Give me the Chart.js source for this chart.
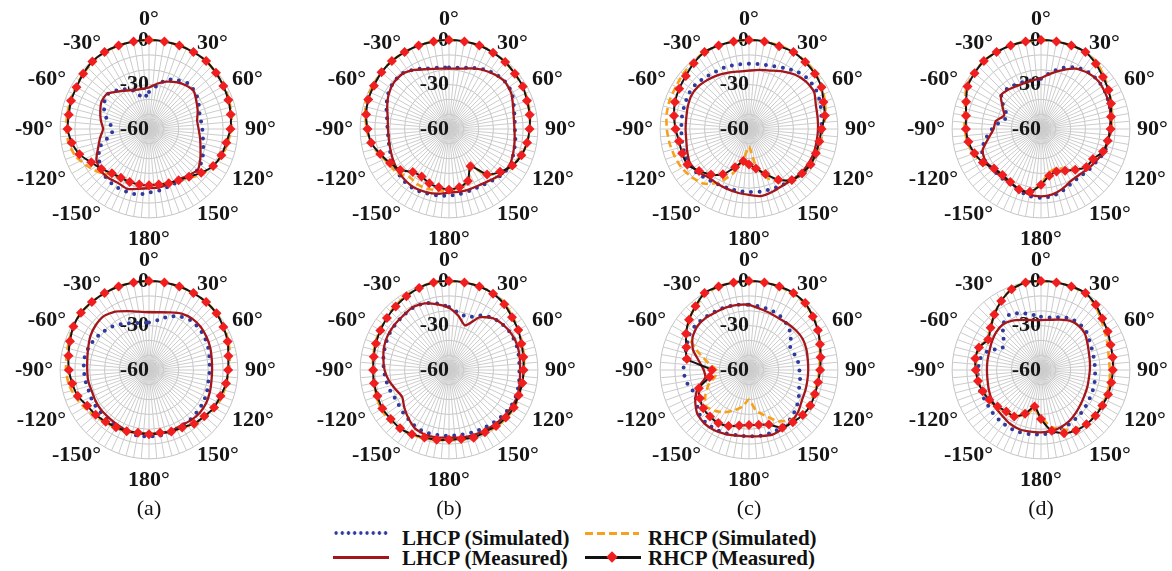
<!DOCTYPE html>
<html>
<head>
<meta charset="utf-8">
<script src="https://cdn.jsdelivr.net/npm/chart.js@4.4.0/dist/chart.umd.min.js"></script>
<style>
  html, body { margin: 0; padding: 0; background: #fff; }
  #stage { position: relative; width: 1172px; height: 571px; overflow: hidden; font-family: 'Liberation Serif', 'Times New Roman', serif; color: #111; }
  .plot { position: absolute; }
  .plot canvas { display: block; }
  .cap { position: absolute; font-size: 22px; line-height: 1; transform: translate(-50%, -50%); white-space: nowrap; }
  .lg-text { position: absolute; font-size: 21px; font-weight: bold; line-height: 1; transform: translateY(-50%); white-space: nowrap; }
  .sw { position: absolute; }
  .sw.dot { background-image: radial-gradient(circle, #2f3a9e 1.5px, transparent 2px); background-size: 6.2px 6px; height: 6px; }
  .sw.dash { height: 3px; background: repeating-linear-gradient(90deg, #f7a11a 0 8px, transparent 8px 12px); }
  .sw.red { height: 3px; background: #a4161a; }
  .sw.black { height: 3px; background: #111; }
  .diamond { position: absolute; width: 8px; height: 8px; background: #f01e1e; transform: rotate(45deg); }
</style>
</head>
<body>
<div id="stage"></div>
<script>
// ---- tick labels ---------------------------------------------------------
const angleTickLabels = ['0°', '30°', '60°', '90°', '120°', '150°', '180°', '-150°', '-120°', '-90°', '-60°', '-30°'];
const radialTickValues = [-60, -30, 0];
const panelCaptions = ['(a)', '(b)', '(c)', '(d)'];
const seriesNames = ['LHCP (Simulated)', 'RHCP (Simulated)', 'LHCP (Measured)', 'RHCP (Measured)'];

// ---- patterns in dB, theta = 0°, 10°, ..., 350° (clockwise, 190° = -170°) ----
// upper row
const lhcpSimA1  = [-35, -30.5, -24.5, -22, -19.5, -20, -21.5, -24, -24.5, -24, -23, -21, -18.5, -17, -18.5, -19.5, -19, -18, -17, -15, -15, -15, -16, -17.5, -21, -24.5, -33, -36, -32, -28, -25, -23.5, -26, -29, -33, -39];
const rhcpSimA1  = [0, 0, 0, 0, 0, -1, -1.5, -2.5, -3.5, -4.5, -6, -7.5, -10, -13, -17, -20, -21, -22, -22, -22, -22.5, -22, -20, -15, -11, -7, -5, -4, -4, -3.5, -3, -2, -1, 0, 0, 0];
const lhcpMeasA1 = [-32, -29, -26, -23.5, -21.5, -20.5, -23, -25, -27, -26.5, -25, -23, -20, -17, -19, -20.5, -20.5, -20, -20, -19, -17, -18, -17, -17, -19, -23.5, -26.5, -29, -27, -25, -23, -23, -27, -30, -32, -32.5];
const rhcpMeasA1 = [0, 0, 0, 0, 0, -1, -2, -3, -4, -5, -7, -8, -10, -14, -18, -20, -21, -22, -22, -22, -22, -22, -21, -18, -15, -10, -7, -5, -5, -4, -3.5, -2, -0.5, 0, 0, 0];

const lhcpSimB1  = [-18.5, -18, -16, -13.5, -11.5, -10.5, -11, -13.5, -15, -15.5, -14.5, -13.5, -12, -12.5, -14.5, -16, -16, -15.5, -15, -14.5, -14, -13, -13.5, -14.5, -16, -17.5, -18.5, -18.5, -17.5, -15, -12.5, -11, -11, -13.5, -16.5, -18];
const rhcpSimB1  = [0, 0, 0, 0, -1, -2, -2.5, -3.5, -4.5, -5.5, -6.5, -8, -10.5, -14.5, -19.5, -30, -22, -19, -18, -18, -17, -17, -18, -14, -13, -10, -6, -4.5, -2.5, -0.5, -1, 0, 0, 0, 0, 0];
const lhcpMeasB1 = [-19.2, -18.6, -16.5, -14, -12, -10.6, -11.5, -14, -15.6, -15.8, -15, -13.8, -12.4, -13, -15.4, -16.8, -17, -17, -17, -15.6, -14.7, -14, -14.4, -15.4, -16.7, -18, -18.8, -18.8, -18, -15.6, -13, -11.3, -11.3, -14, -17, -18.6];
const rhcpMeasB1 = [0, 0, 0, -0.5, -1, -2, -2.5, -4, -4.7, -5.6, -6.5, -8, -10.6, -15, -20, -31, -22.6, -20, -19, -20, -21, -23, -22, -17, -14, -10.6, -6.6, -5, -3.2, -2, -1.5, -0.5, 0, 0, 0, 0];

const lhcpSimC1  = [-16, -15.6, -14.7, -12.5, -9.5, -7.7, -7.7, -8.8, -10.4, -11, -11.5, -11.8, -11.5, -13, -15.3, -16, -16.7, -17, -17.4, -17.6, -17.6, -17.2, -15.8, -14, -13, -13.6, -14, -14.3, -14, -13.6, -12.9, -13, -14.4, -15.3, -15.3, -15.8];
const rhcpSimC1  = [0, 0, 0, 0, -0.5, -1.5, -3, -5.5, -7.5, -10, -11, -11.5, -12, -13, -15, -19, -25, -36, -48, -40, -28, -18, -12, -9.5, -7.5, -6.5, -5.5, -4.5, -3.5, -3, -3, -2, -1, 0, 0, 0];
const lhcpMeasC1 = [-20.6, -19.5, -18, -15, -12, -10, -9.3, -12, -13, -13.4, -13.6, -13.4, -13.6, -14, -15, -15.6, -14.7, -14, -15.6, -16.3, -17, -17.4, -17.4, -15, -14, -15.6, -17, -17.2, -17, -16, -15, -15.3, -16.7, -18, -19.5, -20.6];
const rhcpMeasC1 = [0, 0, -0.5, 0, -1, -2, -3.5, -6.5, -8, -11, -11.8, -12, -12, -13.3, -15, -20.4, -27.6, -33, -36, -38, -32.5, -24.7, -20, -16, -12, -12, -12, -10.4, -8.6, -6.8, -5.6, -4.3, -2, 0, 0, 0];

const lhcpSimD1  = [-26, -21, -16, -12, -10, -9.5, -10, -11, -12, -13, -13.5, -14.5, -16.5, -17.5, -18.5, -18, -16, -14, -13.5, -14, -16, -17.5, -17.5, -17.5, -16.5, -17.5, -22, -27, -32, -36, -31, -25, -24.5, -25.5, -26, -26.5];
const rhcpSimD1  = [0, 0, 0, 0, -1.5, -4.5, -7, -9.5, -11.5, -12.5, -14, -15.5, -18.5, -20, -25, -29, -31.5, -30, -23, -17, -16, -18, -19, -18, -14, -11.5, -9.5, -8.5, -7.5, -5.5, -2, -1, 0, 0, 0, 0];
const lhcpMeasD1 = [-25.6, -22, -17.7, -13, -10.6, -9.5, -10.2, -11, -12.4, -13.4, -14, -15, -17, -18.3, -19.7, -19.5, -17.2, -15.2, -14.5, -15, -16.8, -18, -18, -18, -16.7, -18, -24, -28, -29, -33.5, -30, -24.7, -25.4, -26.7, -27, -26.7];
const rhcpMeasD1 = [0, 0, 0, 0, -2.5, -5.4, -7.4, -9.7, -12, -13, -14.3, -15.4, -19.5, -20, -24, -27.4, -29.4, -28, -22.4, -17, -16.5, -18.6, -19.5, -18.6, -14.7, -12.2, -10.2, -9.3, -8.6, -6.2, -2.7, -1.4, 0, 0, 0, 0];

// lower row
const lhcpSimA2  = [-28, -25.8, -21.5, -18.3, -16.3, -16, -16.5, -17.4, -18.5, -19, -19.2, -18.3, -17.4, -17, -16.5, -16.3, -15.6, -15.2, -15.2, -15, -15.6, -15.8, -16.3, -16.7, -16.3, -17, -16.5, -16, -15.6, -16.5, -17.9, -19.7, -21.7, -24, -26.2, -27.8];
const rhcpSimA2  = [0, 0, 0, 0, 0, -0.5, -1.5, -3, -4.5, -6, -7, -7.5, -8.5, -10.5, -12.5, -15, -16, -17, -17, -17, -16, -15, -14, -12, -9.5, -7, -5, -4, -3.5, -2.5, -1, 0, 0, 0, 0, 0];
const lhcpMeasA2 = [-21, -20.4, -18.6, -16, -14.7, -14.5, -15.2, -16, -17, -17.4, -17.2, -16.3, -15.4, -15.2, -15.8, -16.7, -16.3, -16.5, -16.7, -16.7, -16.5, -17.4, -17.9, -17.9, -18.3, -18.8, -18.3, -18.3, -17.7, -16.3, -14.3, -13, -12.5, -14.5, -17.7, -20];
const rhcpMeasA2 = [0, 0, 0, 0, 0, -0.5, -2, -3.5, -5.6, -6.6, -7.2, -8.6, -9.3, -11.3, -12.7, -15.2, -15.8, -17, -16.7, -17, -16, -15.4, -14.5, -13, -11.8, -8.8, -7.4, -5.9, -4.8, -3.2, -1.1, 0, 0, 0, 0, 0];

const lhcpSimB2  = [-17.5, -21, -22, -17.5, -14, -12.5, -11.5, -11.5, -12, -12.5, -12, -11.5, -11.5, -12.5, -13.5, -14.5, -15, -15.5, -15.5, -15.5, -15, -15.5, -17, -18, -19, -18, -17, -16, -15, -14, -13, -12.5, -12, -11.5, -12, -14.5];
const rhcpSimB2  = [0, 0, 0, 0, -1.5, -4, -5.5, -7.5, -8.5, -9.5, -9.5, -9.5, -9, -9.5, -10, -11, -11.5, -12, -12.5, -12, -11, -9.5, -8, -7.5, -7, -8, -8.5, -8.5, -8, -7, -6, -5, -3.5, -2, -0.5, 0];
const lhcpMeasB2 = [-18, -23, -28, -19, -14.3, -12.4, -11.3, -11, -11.5, -12, -11.5, -10.6, -10.9, -11.5, -12, -12.7, -13.1, -13.8, -14.3, -13.8, -13.4, -14.3, -17.4, -20.6, -23.5, -21.7, -18.8, -16.5, -15, -13.4, -12.5, -12.2, -12, -11, -12.2, -15];
const rhcpMeasB2 = [0, 0, 0, -0.5, -2, -4.5, -6, -8, -9, -9.7, -9.7, -10, -9.5, -10, -10.6, -11.5, -11.3, -12.7, -12.9, -12.2, -11.5, -10, -8.6, -8.6, -8, -8.6, -8.6, -8.8, -8.4, -7.5, -6.5, -5.3, -4, -2.5, -1, 0];

const lhcpSimC2  = [-16, -16.5, -17, -18, -20, -23, -28, -27.6, -26.5, -26, -25, -24, -21.3, -18.8, -16.7, -15.5, -15, -15, -15.2, -15.2, -14.5, -14, -14, -15.5, -19, -19.5, -16.7, -15.8, -15.8, -15, -13.3, -12.9, -13.6, -14.3, -14.7, -15.4];
const rhcpSimC2  = [0, 0, 0, -0.5, -1.5, -3.5, -6, -9, -11.5, -12.5, -13, -13.5, -13.5, -14, -16, -20, -27, -32, -40, -35, -31, -27, -24, -22, -26, -31, -37, -38, -32, -23, -12, -7, -4, -1, 0, 0];
const lhcpMeasC2 = [-16, -18, -19, -19.7, -19.2, -18.5, -18.1, -18.8, -19.7, -20, -20, -19.5, -18.8, -16.5, -15, -14.3, -13.6, -14.7, -15.2, -15, -14, -13.1, -13, -14.3, -18.1, -22.9, -30, -29.4, -25.8, -19.7, -16, -14.3, -14.3, -15, -15, -15.4];
const rhcpMeasC2 = [0, 0, 0, 0, -1, -3.8, -6.3, -9, -10.9, -12, -12.7, -12.7, -12.2, -12.7, -14, -15, -20.8, -22.4, -22.9, -22, -19.7, -18.6, -19, -19.7, -21.7, -24, -33, -35, -17.4, -15, -10.9, -7.2, -3.8, 0, 0, 0];

const lhcpSimD2  = [-24, -24, -22, -20, -19.5, -20, -22, -23, -23.5, -23.5, -23, -22.5, -22, -21, -20, -19, -18, -17, -16.5, -16, -15.5, -15.5, -16, -16.5, -17, -16.5, -16.5, -17.5, -18, -22, -30, -27, -20, -17, -19, -22];
const rhcpSimD2  = [0, 0, 0, -0.5, -3, -7, -10, -12, -13.5, -13.5, -13, -12.5, -12.5, -12.5, -13, -14, -17, -21, -28, -33, -28, -24, -23, -21, -19.5, -18, -17, -16.5, -15.5, -15.5, -18, -15.5, -11, -6, -2, 0];
const lhcpMeasD2 = [-26.3, -25.6, -23.8, -21.5, -20.8, -21.5, -23.8, -25.6, -26.5, -27, -27.2, -26.7, -26, -24.7, -22.9, -20.8, -19.2, -18.1, -17.9, -17.7, -17.4, -18.1, -19.5, -20.2, -21.3, -22.4, -23.3, -23.5, -23.3, -22.9, -21.7, -20.4, -19.9, -21.5, -24, -25.8];
const rhcpMeasD2 = [0, 0, 0, 0, -2.5, -6, -8, -10, -10.9, -11.5, -11.8, -11.8, -12.2, -12, -12.2, -12.9, -14.5, -18.3, -27, -35, -28.5, -23.8, -23.5, -21.7, -19.7, -18.1, -16.8, -16, -15, -15.4, -18.8, -15.6, -11, -6.3, -2, 0];

// ---- layout ----------------------------------------------------------------
const columnCentersX = [149, 449, 749, 1041];
const rowCentersY = [129, 370];
const PLOT_RADIUS = 89;
const captionY = 508;

const panelSeries = [
  [lhcpSimA1, rhcpSimA1, lhcpMeasA1, rhcpMeasA1],
  [lhcpSimB1, rhcpSimB1, lhcpMeasB1, rhcpMeasB1],
  [lhcpSimC1, rhcpSimC1, lhcpMeasC1, rhcpMeasC1],
  [lhcpSimD1, rhcpSimD1, lhcpMeasD1, rhcpMeasD1],
  [lhcpSimA2, rhcpSimA2, lhcpMeasA2, rhcpMeasA2],
  [lhcpSimB2, rhcpSimB2, lhcpMeasB2, rhcpMeasB2],
  [lhcpSimC2, rhcpSimC2, lhcpMeasC2, rhcpMeasC2],
  [lhcpSimD2, rhcpSimD2, lhcpMeasD2, rhcpMeasD2]
];

// ---- polar grid: spokes every 5°, samples every 10° ------------------------
const SPOKE_STEP = 5;
const DATA_STEP = 10;
const spokeCount = 360 / SPOKE_STEP;
const spokeLabels = [];
for (let i = 0; i < spokeCount; i++) {
  const deg = i * SPOKE_STEP;
  spokeLabels.push(deg % 30 === 0 ? angleTickLabels[deg / 30] : '');
}
function onSpokes(values) {
  const ratio = DATA_STEP / SPOKE_STEP;
  const out = new Array(spokeCount).fill(null);
  values.forEach((v, k) => { out[k * ratio] = v; });
  return out;
}
// radial labels sit just left of the vertical axis: pad with blank glyphs of equal width
function radialTickText(value) {
  if (!radialTickValues.includes(value)) return '';
  const txt = String(value);
  const pad = txt.replace(/\d/g, '\u2007').replace('-', '\u2008\u200A');
  return txt + pad;
}
// angle labels: 0° and 180° sit above / below the ring, the others are centred on their spoke
function pointLabelPadding(ctx) {
  const deg = ctx.index * SPOKE_STEP;
  return (deg === 0 || deg === 180) ? 6 : -6;
}

const SERIF = "'Liberation Serif', 'Times New Roman', serif";

function makeConfig(series) {
  const [lSim, rSim, lMeas, rMeas] = series;
  return {
    type: 'radar',
    data: {
      labels: spokeLabels,
      datasets: [
        {
          label: seriesNames[3], data: onSpokes(rMeas), order: 0,
          borderColor: '#151515', borderWidth: 2, backgroundColor: 'transparent', fill: false,
          pointStyle: 'rectRot', pointRadius: 5, pointBackgroundColor: '#f01e1e', pointBorderColor: '#f01e1e', pointBorderWidth: 0
        },
        {
          label: seriesNames[2], data: onSpokes(lMeas), order: 1,
          borderColor: '#a4161a', borderWidth: 2.3, backgroundColor: 'transparent', fill: false, pointRadius: 0
        },
        {
          label: seriesNames[1], data: onSpokes(rSim), order: 2,
          borderColor: '#f7a11a', borderWidth: 2.6, borderDash: [7, 4], backgroundColor: 'transparent', fill: false, pointRadius: 0
        },
        {
          label: seriesNames[0], data: onSpokes(lSim), order: 3,
          borderColor: '#2f3a9e', borderWidth: 4, borderDash: [0, 8.5], borderCapStyle: 'round',
          backgroundColor: 'transparent', fill: false, pointRadius: 0
        }
      ]
    },
    options: {
      responsive: false,
      maintainAspectRatio: false,
      animation: false,
      events: [],
      spanGaps: true,
      elements: { line: { tension: 0.2 } },
      layout: { padding: 14 },
      plugins: { legend: { display: false }, tooltip: { enabled: false } },
      scales: {
        r: {
          min: -60, max: 0, startAngle: 0,
          ticks: {
            stepSize: 10, showLabelBackdrop: false, color: '#151515',
            font: { family: SERIF, size: 22, weight: 'bold' }, callback: radialTickText
          },
          grid: { circular: true, color: '#c4c4c4', lineWidth: 1 },
          angleLines: { display: true, color: '#cccccc', lineWidth: 1 },
          pointLabels: {
            display: true, padding: pointLabelPadding, color: '#151515',
            font: { family: SERIF, size: 22, weight: 'bold', lineHeight: 0.2 }
          }
        }
      }
    }
  };
}

const stage = document.getElementById('stage');

panelSeries.forEach((series, idx) => {
  const col = idx % 4, row = Math.floor(idx / 4);
  const wrap = document.createElement('div');
  wrap.className = 'plot';
  const canvas = document.createElement('canvas');
  let size = 300;
  canvas.width = size; canvas.height = size;
  wrap.appendChild(canvas);
  stage.appendChild(wrap);
  const chart = new Chart(canvas, makeConfig(series));
  for (let k = 0; k < 4; k++) {
    const diff = PLOT_RADIUS - chart.scales.r.drawingArea;
    if (Math.abs(diff) < 0.3) break;
    size = Math.round(size + 2 * diff);
    chart.resize(size, size);
  }
  const s = chart.scales.r;
  wrap.style.left = (columnCentersX[col] - s.xCenter) + 'px';
  wrap.style.top = (rowCentersY[row] - s.yCenter) + 'px';
});

// panel captions
panelCaptions.forEach((txt, col) => {
  const el = document.createElement('div');
  el.className = 'cap';
  el.textContent = txt;
  el.style.left = columnCentersX[col] + 'px';
  el.style.top = captionY + 'px';
  stage.appendChild(el);
});

// legend
function addSwatch(cls, left, top, width) {
  const el = document.createElement('div');
  el.className = 'sw ' + cls;
  el.style.left = left + 'px'; el.style.top = top + 'px'; el.style.width = width + 'px';
  stage.appendChild(el);
  return el;
}
function addLegendText(txt, left, centerY) {
  const el = document.createElement('div');
  el.className = 'lg-text';
  el.textContent = txt;
  el.style.left = left + 'px'; el.style.top = centerY + 'px';
  stage.appendChild(el);
}
addSwatch('dot', 333, 530, 56);
addLegendText(seriesNames[0], 402, 537.5);
addSwatch('dash', 585, 531.5, 54);
addLegendText(seriesNames[1], 648, 537.5);
addSwatch('red', 333, 555.5, 56);
addLegendText(seriesNames[2], 402, 557.5);
addSwatch('black', 585, 555.5, 56);
const dia = document.createElement('div');
dia.className = 'diamond';
dia.style.left = (612 - 4) + 'px'; dia.style.top = (557 - 4) + 'px';
stage.appendChild(dia);
addLegendText(seriesNames[3], 648, 557.5);
</script>
</body>
</html>
